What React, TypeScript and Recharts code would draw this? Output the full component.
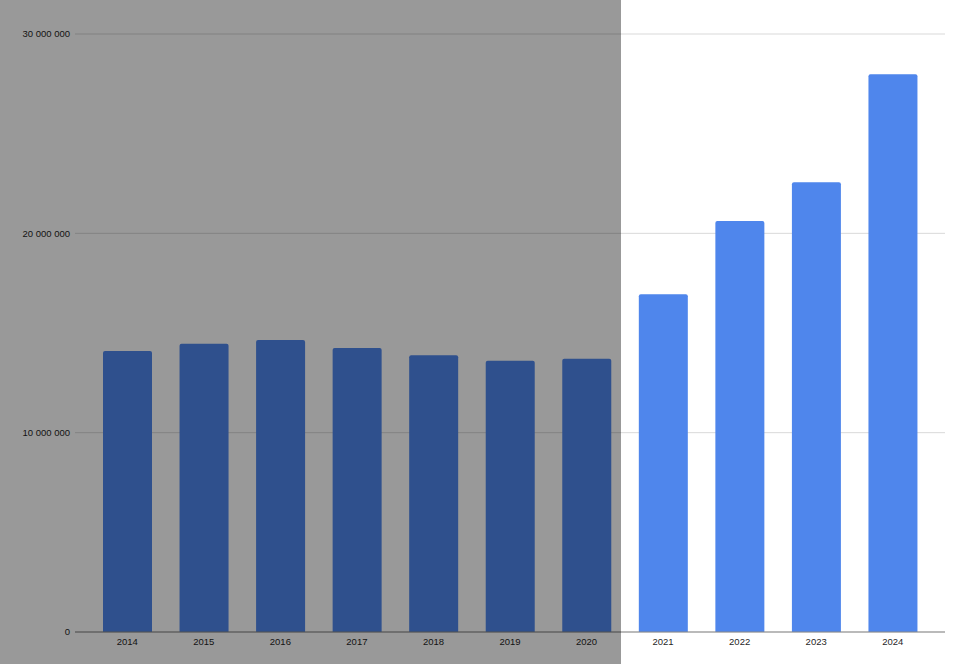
import React from 'react';
import { BarChart, Bar, XAxis, YAxis, CartesianGrid } from 'recharts';

const years = ['2014', '2015', '2016', '2017', '2018', '2019', '2020', '2021', '2022', '2023', '2024'];
const amounts = [
  14100000, 14460000, 14650000, 14250000, 13880000, 13610000, 13710000,
  16940000, 20620000, 22560000, 27980000,
];
const yTicks = [0, 10000000, 20000000, 30000000];

const data = years.map((year, i) => ({ year, amount: amounts[i] }));

const fmt = (v: number) => String(v).replace(/\B(?=(\d{3})+(?!\d))/g, ' ');

const tickFont = { fill: '#1f1f1f', fontSize: 9.5, fontFamily: 'Liberation Sans, Arial, sans-serif' };

export default function App() {
  return (
    <div style={{ position: 'fixed', left: 0, top: 0, width: 960, height: 664, background: '#fff' }}>
      <BarChart
        width={960}
        height={664}
        data={data}
        margin={{ top: 34, right: 15, bottom: 2, left: 0 }}
      >
        <CartesianGrid vertical={false} stroke="#d9d9d9" />
        <XAxis
          dataKey="year"
          height={30}
          padding={{ left: 14, right: 14 }}
          tickLine={false}
          tickSize={0}
          tickMargin={6}
          axisLine={{ stroke: '#888' }}
          tick={tickFont}
        />
        <YAxis
          width={75}
          domain={[0, 30000000]}
          ticks={yTicks}
          tickFormatter={fmt}
          axisLine={false}
          tickLine={false}
          tickSize={0}
          tickMargin={5}
          tick={tickFont}
        />
        <Bar dataKey="amount" fill="#4f86ec" barSize={49} radius={[2, 2, 0, 0]} isAnimationActive={false} />
      </BarChart>
      <div
        style={{
          position: 'absolute',
          left: 0,
          top: 0,
          width: 621,
          height: 664,
          background: 'rgba(0,0,0,0.4)',
          pointerEvents: 'none',
        }}
      />
    </div>
  );
}
